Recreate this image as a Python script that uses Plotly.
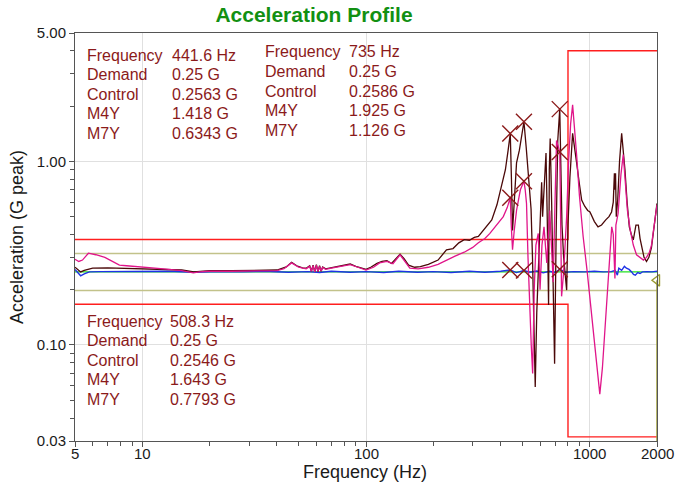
import math
import plotly.graph_objects as go

# ---------------- data ----------------
m4y_freq = [5, 5.15, 5.3, 5.5, 6, 7, 8, 10, 12, 15, 17, 20, 25, 30, 35, 40, 44, 46.5, 49, 52,
            54, 56, 57, 58, 59, 60, 61, 62, 63, 64, 66, 70, 80, 85, 90, 95, 100, 105, 112, 118,
            124, 130, 136, 142, 148, 155, 165, 175, 190, 210, 229, 245, 260, 275, 290, 305, 318,
            340, 365, 385, 404, 420, 432, 441.6, 447, 452, 460, 471, 485, 498, 508.3, 520, 531,
            540, 547, 555, 563, 571, 580, 595, 603, 610, 616, 624, 632, 638, 646, 655, 660, 666,
            676, 688, 697, 708, 720, 735, 744, 752, 765, 780, 789, 800, 816, 839, 857, 875, 900,
            921, 950, 980, 1003, 1050, 1090, 1130, 1180, 1220, 1253, 1275, 1290, 1297, 1305, 1315,
            1335, 1360, 1390, 1410, 1438, 1470, 1504, 1535, 1567, 1610, 1651, 1680, 1711, 1750,
            1795, 1840, 1890, 1930, 1958, 2000]
m4y_vals = [0.265, 0.258, 0.250, 0.255, 0.262, 0.263, 0.262, 0.261, 0.259, 0.256, 0.250, 0.254,
            0.254, 0.254, 0.255, 0.256, 0.266, 0.282, 0.270, 0.263,
            0.262, 0.270, 0.252, 0.272, 0.250, 0.274, 0.250, 0.270, 0.252, 0.266, 0.260, 0.264,
            0.272, 0.276, 0.268, 0.262, 0.258, 0.265, 0.278, 0.285,
            0.288, 0.278, 0.295, 0.312, 0.295, 0.272, 0.265, 0.267, 0.275, 0.290, 0.330, 0.335,
            0.360, 0.375, 0.372, 0.385, 0.390,
            0.430, 0.480, 0.580, 0.730, 0.900, 1.150, 1.418, 0.800, 0.420, 0.600, 0.980, 1.150,
            1.450, 1.643, 1.200, 0.900,
            0.650, 0.550, 0.300, 0.100, 0.059, 0.150, 0.390, 0.600, 0.770, 0.500, 0.700, 0.900,
            1.110, 0.500, 0.165, 0.900, 1.330,
            0.600, 0.200, 0.079, 0.400, 1.300, 1.925, 0.900, 0.450, 0.300, 0.220, 0.199, 0.450,
            0.820, 1.420, 1.200, 0.975, 0.750,
            0.616, 0.570, 0.540, 0.530, 0.470, 0.440, 0.450, 0.480, 0.500, 0.530, 0.600, 0.860,
            0.700, 0.860, 0.500,
            0.620, 1.000, 1.420, 1.200, 0.900, 0.600, 0.440, 0.400, 0.373, 0.450, 0.450, 0.380,
            0.340, 0.300,
            0.285, 0.300, 0.340, 0.420, 0.500, 0.590]

m7y_freq = [5, 5.2, 5.4, 5.74, 6.2, 6.8, 7.17, 7.9, 8.5, 9.7, 11, 12.8, 15, 16.9, 18, 20, 25, 30,
            35, 40, 43, 46.5, 50, 54, 56, 57, 58, 59, 60, 61, 62, 63, 64, 66, 70, 80, 85, 92, 100,
            108, 115, 124, 132, 142, 150, 157, 171, 190, 210, 229, 250, 275, 300, 318, 340, 358,
            385, 411, 428, 441.6, 446, 452, 460, 471, 490, 508.3, 515, 522, 530, 540, 548, 556,
            565, 575, 589, 600, 612, 625, 643, 663, 687, 700, 711, 735, 742, 749, 765, 789, 805,
            822, 839, 857, 875, 900, 935, 975, 1019, 1050, 1073, 1110, 1140, 1170, 1200, 1232,
            1255, 1275, 1297, 1310, 1340, 1380, 1413, 1440, 1475, 1520, 1567, 1620, 1680, 1740,
            1795, 1850, 1890, 1930, 1958, 2000]
m7y_vals = [0.293, 0.285, 0.290, 0.316, 0.310, 0.300, 0.290, 0.272, 0.270, 0.267, 0.263, 0.259,
            0.254, 0.247, 0.250, 0.252, 0.252, 0.253,
            0.253, 0.254, 0.260, 0.280, 0.265, 0.260, 0.268, 0.252, 0.270, 0.250, 0.272, 0.251,
            0.268, 0.253, 0.264, 0.258, 0.262, 0.270, 0.274, 0.265, 0.256,
            0.265, 0.280, 0.285, 0.277, 0.310, 0.285, 0.262, 0.260, 0.265, 0.275, 0.290, 0.305,
            0.320, 0.340, 0.360, 0.380, 0.405,
            0.450, 0.500, 0.560, 0.634, 0.450, 0.330, 0.420, 0.540, 0.700, 0.779, 0.700, 0.590,
            0.300, 0.149, 0.100, 0.070,
            0.200, 0.350, 0.405, 0.200, 0.350, 0.440, 0.280, 0.540, 0.220, 0.600, 1.300, 1.126,
            0.500, 0.184, 0.250, 0.500, 1.000,
            1.600, 2.030, 1.500, 1.070, 0.650, 0.390, 0.250, 0.149, 0.100, 0.080, 0.054, 0.075,
            0.121, 0.200, 0.290,
            0.440, 0.400, 0.230, 0.450, 0.520, 0.850, 1.090, 0.800, 0.540, 0.420, 0.350, 0.310,
            0.300, 0.290,
            0.300, 0.320, 0.350, 0.420, 0.500, 0.580]

ctrl_freq = [5, 5.15, 5.3, 5.5, 5.8, 6.5, 8, 10, 13, 17, 22, 28, 35, 45, 55, 62, 70, 85, 100,
             120, 140, 170, 200, 240, 290, 340, 400, 441.6, 470, 508.3, 540, 580, 620, 660,
             700, 735, 780, 850, 950, 1050, 1150, 1250, 1300, 1330, 1350, 1390, 1430, 1460,
             1500, 1540, 1570, 1600, 1640, 1680, 1720, 1800, 1900, 2000]
ctrl_vals = [0.258, 0.248, 0.238, 0.244, 0.250, 0.251, 0.251, 0.250, 0.252, 0.249, 0.251, 0.250,
             0.252, 0.249, 0.251, 0.248, 0.252, 0.249, 0.251,
             0.248, 0.252, 0.249, 0.251, 0.248, 0.252, 0.249, 0.252, 0.2563, 0.248, 0.2546,
             0.249, 0.253, 0.247, 0.252,
             0.248, 0.2586, 0.249, 0.251, 0.250, 0.252, 0.250, 0.251, 0.255, 0.240, 0.262,
             0.255, 0.268, 0.262,
             0.258, 0.250, 0.242, 0.240, 0.248, 0.245, 0.250, 0.251, 0.250, 0.252]

demand_freq = [5, 2000]
demand_vals = [0.25, 0.25]

abort_hi_freq = [5, 800, 800, 2000]
abort_hi_vals = [0.375, 0.375, 4.0, 4.0]
abort_lo_freq = [5, 800, 800, 2000]
abort_lo_vals = [0.1667, 0.1667, 0.0316, 0.0316]

alarm_hi_freq = [5, 2000]
alarm_hi_vals = [0.315, 0.315]
alarm_lo_freq = [5, 2000]
alarm_lo_vals = [0.198, 0.198]
alarm_end_freq = [2000, 2000]
alarm_end_vals = [0.225, 0.03]

cursor_freq = [441.6, 508.3, 735]
cursor_m4y = [1.418, 1.643, 1.925]
cursor_m7y = [0.6343, 0.7793, 1.126]
cursor_ctrl = [0.2563, 0.2546, 0.2586]

readout_labels = ["Frequency", "Demand", "Control", "M4Y", "M7Y"]
readout_a = ["441.6 Hz", "0.25 G", "0.2563 G", "1.418 G", "0.6343 G"]
readout_b = ["735 Hz", "0.25 G", "0.2586 G", "1.925 G", "1.126 G"]
readout_c = ["508.3 Hz", "0.25 G", "0.2546 G", "1.643 G", "0.7793 G"]

x_tickvals = [5, 10, 100, 1000, 2000]
x_ticktext = ["5", "10", "100", "1000", "2000"]
y_tickvals = [0.03, 0.1, 1, 5]
y_ticktext = ["0.03", "0.10", "1.00", "5.00"]
x_minor = [6, 7, 8, 9, 20, 30, 40, 50, 60, 70, 80, 90, 200, 300, 400, 500, 600, 700, 800, 900]
y_minor = [0.04, 0.05, 0.06, 0.07, 0.08, 0.09, 0.2, 0.3, 0.4, 0.5, 0.6, 0.7, 0.8, 0.9, 2, 3, 4]

# ---------------- figure ----------------
FONT = "Liberation Sans, Arial, sans-serif"
TXT = "#8B1A1A"
fig = go.Figure()

def line(x, y, color, width=1.2):
    fig.add_trace(go.Scatter(x=x, y=y, mode="lines", line=dict(color=color, width=width),
                             hoverinfo="skip", showlegend=False, cliponaxis=False))

line(abort_hi_freq, abort_hi_vals, "#FF1E1E", 1.4)
line(abort_lo_freq, abort_lo_vals, "#FF1E1E", 1.4)
line(alarm_hi_freq, alarm_hi_vals, "#C2C28A", 1.6)
line(alarm_lo_freq, alarm_lo_vals, "#C2C28A", 1.6)
line(alarm_end_freq, alarm_end_vals, "#9A9A30", 1.4)
fig.add_trace(go.Scatter(x=[2000], y=[0.225], mode="markers",
                         marker=dict(symbol="triangle-left-open", size=10, color="#9A9A30",
                                     line=dict(width=1.4)),
                         hoverinfo="skip", showlegend=False, cliponaxis=False))
line(demand_freq, demand_vals, "#22E022", 1.4)
line(ctrl_freq, ctrl_vals, "#1E32E6", 1.4)
line(m4y_freq, m4y_vals, "#4A0808", 1.3)
line(m7y_freq, m7y_vals, "#E0158A", 1.3)

for yv in (cursor_m4y, cursor_m7y, cursor_ctrl):
    fig.add_trace(go.Scatter(x=cursor_freq, y=yv, mode="markers",
                             marker=dict(symbol="x-thin", size=16,
                                         line=dict(color="#8B1A1A", width=1.4)),
                             hoverinfo="skip", showlegend=False))

# readout annotations
L, R, T, B = 75, 657, 33, 441
def px(x):
    return (x - L) / (R - L)
def py(y):
    return (B - y) / (B - T)

blocks = [
    (readout_a, 85, 170, 55),
    (readout_b, 263, 347, 52),
    (readout_c, 85, 168, 321),
]
for vals, xl, xv, y0 in blocks:
    for i, (lab, val) in enumerate(zip(readout_labels, vals)):
        yy = y0 + i * 19.6
        for xx, t in ((xl, lab), (xv, val)):
            fig.add_annotation(x=px(xx), y=py(yy), xref="paper", yref="paper", text=t,
                               showarrow=False, xanchor="left", yanchor="middle",
                               font=dict(family=FONT, size=16, color=TXT))

# x tick labels (placed via the x axis so they sit just under the ticks)
for v, t in zip(x_tickvals, x_ticktext):
    fig.add_annotation(x=math.log10(v), y=py(454), xref="x", yref="paper", text=t,
                       showarrow=False, xanchor="center", yanchor="middle",
                       font=dict(family=FONT, size=15, color="#1a1a1a"))

# axis titles
fig.add_annotation(x=px(365), y=py(472), xref="paper", yref="paper", text="Frequency (Hz)",
                   showarrow=False, xanchor="center", yanchor="middle",
                   font=dict(family=FONT, size=18, color="#1a1a1a"))
fig.add_annotation(x=px(17), y=py(237), xref="paper", yref="paper",
                   text="Acceleration (G peak)", textangle=-90,
                   showarrow=False, xanchor="center", yanchor="middle",
                   font=dict(family=FONT, size=18, color="#1a1a1a"))

axis_common = dict(type="log", showline=True, mirror=True, linecolor="#555555", linewidth=1,
                   ticks="outside", ticklen=5, tickcolor="#555555", tickwidth=1,
                   showgrid=True, gridcolor="#E0E0E0", gridwidth=1, zeroline=False,
                   automargin=False,
                   tickfont=dict(family=FONT, size=15, color="#1a1a1a"))

fig.update_xaxes(range=[0.69897, 3.30103], tickmode="array", tickvals=x_tickvals,
                 ticktext=x_ticktext, showticklabels=False,
                 minor=dict(tickvals=x_minor, ticks="outside", ticklen=4, tickcolor="#555555",
                            showgrid=False),
                 **axis_common)
fig.update_yaxes(range=[-1.52288, 0.69897], tickmode="array", tickvals=y_tickvals,
                 ticktext=y_ticktext,
                 minor=dict(tickvals=y_minor, ticks="outside", ticklen=4, tickcolor="#555555",
                            showgrid=False),
                 **axis_common)

fig.update_layout(
    width=676, height=488,
    margin=dict(l=75, r=19, t=33, b=47, autoexpand=False),
    paper_bgcolor="white", plot_bgcolor="white",
    title=dict(text="<b>Acceleration Profile</b>", x=0.4645, xref="container", xanchor="center",
               y=1 - 15 / 488, yref="container", yanchor="middle",
               font=dict(family=FONT, size=21, color="#129012")),
    showlegend=False,
)

fig.write_html("out.html")
